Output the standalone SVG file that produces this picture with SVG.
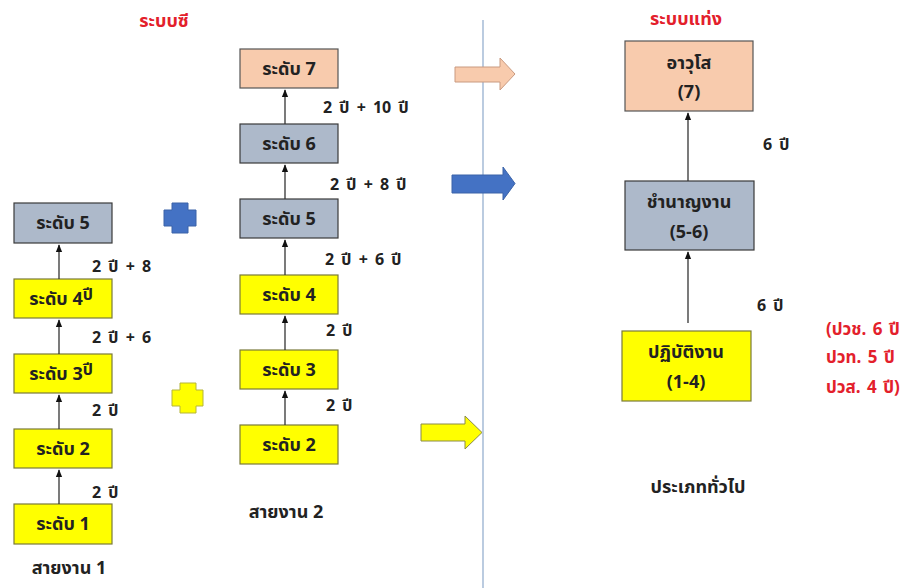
<svg xmlns="http://www.w3.org/2000/svg" width="912" height="588" viewBox="0 0 912 588">
<style>
text{font-family:"Noto Sans Thai","Tahoma","Leelawadee UI","Liberation Sans","DejaVu Sans",sans-serif;font-weight:bold;fill:#222}
.bt{font-size:18px;text-anchor:middle}
.sup{font-size:16px}
.lb{font-size:16px;word-spacing:3px}
.red{fill:#e3202b;font-size:17px;word-spacing:2px}
.ttl{fill:#e3202b;font-size:18px;text-anchor:middle}
.y{fill:#ffff00;stroke:#7a7a3a;stroke-width:1.2}
.g{fill:#adb9ca;stroke:#3a3a3a;stroke-width:1.2}
.p{fill:#f8cbad;stroke:#555;stroke-width:1.2}
.c{stroke:#333;stroke-width:1.3;fill:none;marker-end:url(#ah)}
</style>
<defs>
<marker id="ah" viewBox="0 0 10 10" refX="9" refY="5" markerWidth="6" markerHeight="6" orient="auto"><path d="M0,1 L10,5 L0,9 z" fill="#111"/></marker>
</defs>
<rect width="912" height="588" fill="#fff"/>
<line x1="483" y1="20" x2="483" y2="588" stroke="#8ea9cc" stroke-width="1.2"/>
<text class="ttl" x="164" y="27">ระบบซี</text>
<text class="ttl" x="686" y="25">ระบบแท่ง</text>

<g id="l5"><rect class="g" x="14" y="203" width="98" height="40"/><text class="bt" x="63" y="229">ระดับ 5</text></g>
<g id="l4"><rect class="y" x="14" y="279" width="98" height="39"/><text class="bt" x="61" y="305">ระดับ 4<tspan class="sup" dy="-5">ปี</tspan></text></g>
<g id="l3"><rect class="y" x="14" y="354" width="98" height="39"/><text class="bt" x="61" y="380">ระดับ 3<tspan class="sup" dy="-5">ปี</tspan></text></g>
<g id="l2"><rect class="y" x="14" y="429" width="98" height="39"/><text class="bt" x="63" y="455">ระดับ 2</text></g>
<g id="l1"><rect class="y" x="14" y="504" width="98" height="40"/><text class="bt" x="63" y="530">ระดับ 1</text></g>
<text class="bt" x="69" y="574">สายงาน 1</text>

<g id="m7"><rect class="p" x="240" y="49" width="98" height="39"/><text class="bt" x="289" y="75">ระดับ 7</text></g>
<g id="m6"><rect class="g" x="240" y="124" width="98" height="39"/><text class="bt" x="289" y="150">ระดับ 6</text></g>
<g id="m5"><rect class="g" x="240" y="199" width="98" height="39"/><text class="bt" x="289" y="225">ระดับ 5</text></g>
<g id="m4"><rect class="y" x="240" y="275" width="98" height="39"/><text class="bt" x="289" y="301">ระดับ 4</text></g>
<g id="m3"><rect class="y" x="240" y="350" width="98" height="39"/><text class="bt" x="289" y="376">ระดับ 3</text></g>
<g id="m2"><rect class="y" x="240" y="425" width="98" height="39"/><text class="bt" x="289" y="451">ระดับ 2</text></g>
<text class="bt" x="286" y="518">สายงาน 2</text>

<g id="r7"><rect class="p" x="625" y="41" width="128" height="70"/><text class="bt" x="689" y="69">อาวุโส</text><text class="bt" x="689" y="98">(7)</text></g>
<g id="r56"><rect class="g" x="625" y="181" width="129" height="69"/><text class="bt" x="689" y="208">ชำนาญงาน</text><text class="bt" x="689" y="238">(5-6)</text></g>
<g id="r14"><rect class="y" x="622" y="331" width="129" height="70"/><text class="bt" x="686" y="358">ปฏิบัติงาน</text><text class="bt" x="686" y="388">(1-4)</text></g>
<text class="bt" x="698" y="493">ประเภททั่วไป</text>

<g id="connectors">
<line class="c" x1="59" y1="279" x2="59" y2="245"/>
<line class="c" x1="59" y1="354" x2="59" y2="320"/>
<line class="c" x1="59" y1="429" x2="59" y2="395"/>
<line class="c" x1="59" y1="504" x2="59" y2="470"/>
<line class="c" x1="285" y1="124" x2="285" y2="90"/>
<line class="c" x1="285" y1="199" x2="285" y2="165"/>
<line class="c" x1="285" y1="275" x2="285" y2="240"/>
<line class="c" x1="285" y1="350" x2="285" y2="316"/>
<line class="c" x1="285" y1="425" x2="285" y2="391"/>
<line class="c" x1="688" y1="181" x2="688" y2="113"/>
<line class="c" x1="688" y1="323" x2="688" y2="252"/>
</g>

<text class="lb" x="92" y="272">2 ปี + 8</text>
<text class="lb" x="92" y="343">2 ปี + 6</text>
<text class="lb" x="92" y="416">2 ปี</text>
<text class="lb" x="92" y="498">2 ปี</text>
<text class="lb" x="323" y="113">2 ปี + 10 ปี</text>
<text class="lb" x="330" y="190">2 ปี + 8 ปี</text>
<text class="lb" x="325" y="265">2 ปี + 6 ปี</text>
<text class="lb" x="326" y="336">2 ปี</text>
<text class="lb" x="326" y="411">2 ปี</text>
<text class="lb" x="763" y="150">6 ปี</text>
<text class="lb" x="757" y="311">6 ปี</text>
<text class="red" x="826" y="335">(ปวช. 6 ปี</text>
<text class="red" x="826" y="363">ปวท. 5 ปี</text>
<text class="red" x="826" y="393">ปวส. 4 ปี)</text>

<path d="M172,203 H188 V210 H196 V226 H188 V233 H172 V226 H164 V210 H172 Z" fill="#4472c4" stroke="#3a62a8" stroke-width="1"/>
<path d="M180,383 H196 V390 H203 V406 H196 V413 H180 V406 H172 V390 H180 Z" fill="#ffff00" stroke="#b5b53a" stroke-width="1"/>
<path d="M455,67 H500 V58 L515,74 L500,90 V82 H455 Z" fill="#f8cbad" stroke="#c99a80" stroke-width="1"/>
<path d="M452,175 H503 V167 L515,183.5 L503,200 V193 H452 Z" fill="#4472c4" stroke="#3a62a8" stroke-width="1"/>
<path d="M421,424 H465 V416 L482,432.5 L465,449 V441 H421 Z" fill="#ffff00" stroke="#8a8a4a" stroke-width="1"/>
</svg>
